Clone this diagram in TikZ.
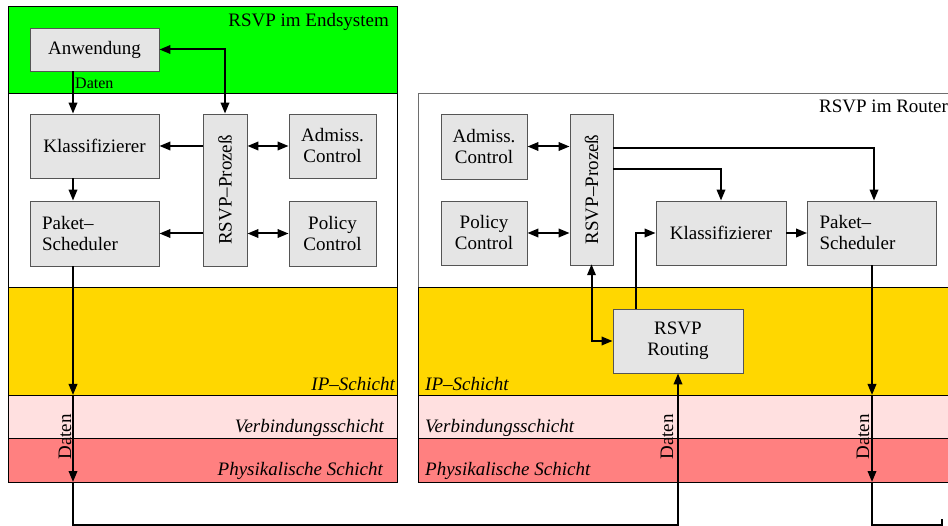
\documentclass[tikz,border=0pt]{standalone}
\usepackage{fontspec}
\setmainfont{Liberation Serif}
\usetikzlibrary{arrows.meta}

\definecolor{hostgreen}{RGB}{0,255,0}
\definecolor{iplayer}{RGB}{255,215,0}
\definecolor{linklayer}{RGB}{255,224,224}
\definecolor{physlayer}{RGB}{255,128,128}
\definecolor{boxfill}{RGB}{229,229,229}
\definecolor{boxline}{RGB}{85,85,85}
\definecolor{frameline}{RGB}{110,110,110}

\begin{document}
\begin{tikzpicture}[x=1pt,y=-1pt,
  box/.style={draw=boxline, fill=boxfill, line width=0.9pt, inner sep=0pt,
    font=\fontsize{19}{21}\selectfont, align=center},
  leftbox/.style={box, align=left, text width=105pt, inner xsep=12pt},
  arr/.style={line width=2pt, -{Triangle[length=11pt,width=8.5pt]}},
  dbl/.style={line width=2pt, {Triangle[length=11pt,width=8.5pt]}-{Triangle[length=11pt,width=8.5pt]}},
  plain/.style={line width=2pt},
  title/.style={font=\fontsize{19}{21}\selectfont, inner sep=0pt},
  layer/.style={font=\fontsize{19}{21}\selectfont\itshape, inner sep=0pt},
  datalabel/.style={font=\fontsize{19}{21}\selectfont, inner sep=0pt, rotate=90},
  band/.style={draw=black, line width=0.8pt}]

\useasboundingbox (0,0) rectangle (948,526);
\clip (0,0) rectangle (948,526);

% ---------- end system: background bands ----------
\fill[white] (0,0) rectangle (948,526);
\filldraw[band, fill=hostgreen] (8,6) rectangle (397,93);
\filldraw[band, fill=white] (8,93) rectangle (397,287);
\filldraw[band, fill=iplayer] (8,287) rectangle (397,395);
\filldraw[band, fill=linklayer] (8,395) rectangle (397,438);
\filldraw[band, fill=physlayer] (8,438) rectangle (397,482);

% ---------- router: background bands ----------
\filldraw[draw=frameline, line width=0.8pt, fill=white] (418,93) rectangle (960,287);
\filldraw[band, fill=iplayer] (418,287) rectangle (960,395);
\filldraw[band, fill=linklayer] (418,395) rectangle (960,438);
\filldraw[band, fill=physlayer] (418,438) rectangle (960,482);

% ---------- titles and layer names ----------
\node[title, anchor=east] (tHost) at (389,22) {RSVP im Endsystem};
\node[title, anchor=west] (tRouter) at (819,106) {RSVP im Router};

\node[layer, anchor=east] (ipL) at (395,384) {IP–Schicht};
\node[layer, anchor=east] (vsL) at (384,428) {Verbindungsschicht};
\node[layer, anchor=east] (phL) at (383,471) {Physikalische Schicht};
\node[layer, anchor=west] (ipR) at (425,384) {IP–Schicht};
\node[layer, anchor=west] (vsR) at (425,428) {Verbindungsschicht};
\node[layer, anchor=west] (phR) at (425,471) {Physikalische Schicht};

% ---------- end system components ----------
% (rotated boxes: east = top, west = bottom, north = left side, south = right side)
\node[box, minimum width=129, minimum height=43] (anw) at (94.5,49.5) {Anwendung};
\node[box, minimum width=129, minimum height=64] (klassL) at (94.5,146) {Klassifizierer};
\node[leftbox, minimum height=65] (paketL) at (94.5,233.5) {Paket–\\Scheduler};
\node[box, rotate=90, minimum width=152, minimum height=44] (rsvpL) at (225,190) {RSVP–Prozeß};
\node[box, minimum width=87, minimum height=64] (admL) at (332.5,146) {Admiss.\\Control};
\node[box, minimum width=87, minimum height=65] (polL) at (332.5,233.5) {Policy\\Control};

% ---------- router components ----------
\node[box, minimum width=86, minimum height=65] (admR) at (484,146.5) {Admiss.\\Control};
\node[box, minimum width=86, minimum height=64] (polR) at (484,233) {Policy\\Control};
\node[box, rotate=90, minimum width=151, minimum height=43] (rsvpR) at (591.5,189.5) {RSVP–Prozeß};
\node[box, minimum width=130, minimum height=64] (klassR) at (721,233) {Klassifizierer};
\node[leftbox, minimum height=64] (paketR) at (872,233) {Paket–\\Scheduler};
\node[box, minimum width=130, minimum height=64] (routing) at (678,341) {RSVP\\Routing};

% ---------- end system connectors ----------
\draw[dbl] (anw.east) -| (rsvpL.east);
\coordinate (anwOut) at ([xshift=-21.5pt]anw.south);
\coordinate (klassIn) at ([xshift=-21.5pt]klassL.north);
\coordinate (klassOut) at ([xshift=-21.5pt]klassL.south);
\coordinate (paketIn) at ([xshift=-21.5pt]paketL.north);
\coordinate (paketOut) at ([xshift=-21.5pt]paketL.south);
\draw[arr] (anwOut) -- (klassIn);
\node[font=\fontsize{16}{18}\selectfont, inner sep=0pt, anchor=west] (datenTop) at (75,83) {Daten};
\draw[arr] (klassOut) -- (paketIn);
\draw[arr] (rsvpL.north |- klassL.east) -- (klassL.east);
\draw[arr] (rsvpL.north |- paketL.east) -- (paketL.east);
\draw[dbl] (rsvpL.south |- admL.west) -- (admL.west);
\draw[dbl] (rsvpL.south |- polL.west) -- (polL.west);

% ---------- router connectors ----------
\draw[dbl] (admR.east) -- (admR.east -| rsvpR.north);
\draw[dbl] (polR.east) -- (polR.east -| rsvpR.north);
\coordinate (rOut1) at (rsvpR.south |- 0,148);
\coordinate (rOut2) at (rsvpR.south |- 0,169);
\draw[arr] (rOut1) -| ([xshift=2pt]paketR.north);
\draw[arr] (rOut2) -| (klassR.north);
\draw[arr] (klassR.east) -- (paketR.west);
\coordinate (rsvpBottom) at ([yshift=1.2pt]rsvpR.west);
\draw[dbl] (rsvpBottom) |- (routing.west);
\coordinate (routeOut) at ([xshift=-42pt]routing.north);
\draw[arr] (routeOut) |- (klassR.west);

% ---------- data path through the layers ----------
\coordinate (l1) at (paketOut |- 0,395);
\coordinate (l2) at (paketOut |- 0,482);
\coordinate (l3) at (paketOut |- 0,525);
\draw[arr] (paketOut) -- (l1);
\draw[arr] (l1) -- (l2);
\draw[arr] (l2) -- (l3) -| (routing.south);

\coordinate (r1) at (paketR.south |- 0,395);
\coordinate (r2) at (paketR.south |- 0,482);
\coordinate (r3) at (paketR.south |- 0,525);
\coordinate (rEnd) at (942,519);
\draw[arr] (paketR.south) -- (r1);
\draw[arr] (r1) -- (r2);
\draw[plain] (r2) -- (r3) -| (rEnd);

\node[datalabel] (datenL) at (65,437) {Daten};
\node[datalabel] (datenM) at (667,437) {Daten};
\node[datalabel] (datenR) at (863,437) {Daten};

\end{tikzpicture}
\end{document}
